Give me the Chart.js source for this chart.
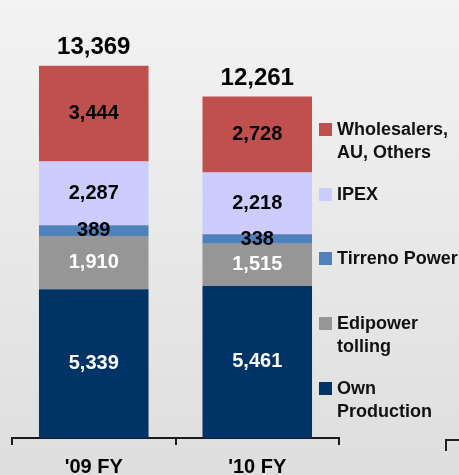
<!DOCTYPE html>
<html>
<head>
<meta charset="utf-8">
<script src="https://cdn.jsdelivr.net/npm/chart.js@4.4.1/dist/chart.umd.min.js"></script>
<style>
  html, body { margin:0; padding:0; width:459px; height:475px; overflow:hidden; }
  body { background: linear-gradient(#f3f3f3, #dedede); position:relative; font-family:"Liberation Sans", Arial, sans-serif; }
  #wrap { position:absolute; left:0; top:0; width:459px; height:500px; }
  #title { position:absolute; left:110px; top:-25px; font-size:30px; font-weight:bold; color:#5a5a5a; line-height:30px; white-space:nowrap; }
  #legend { position:absolute; left:319px; top:118px; }
  .item { height:64.7px; display:flex; align-items:flex-start; }
  .box { width:13px; height:13px; margin-top:5px; margin-right:5px; flex:none; }
  .txt { font-size:18px; font-weight:bold; line-height:23px; color:#111; white-space:nowrap; }
  #frag { position:absolute; left:445px; top:439px; width:20px; height:10px; border-top:2px solid #222; border-left:2px solid #222; }
</style>
</head>
<body>
<div id="title">Sources</div>
<div id="wrap"><canvas id="c" width="459" height="500"></canvas></div>
<div id="legend"></div>
<div id="frag"></div>
<script>
const categories = ["'09 FY", "'10 FY"];
const seriesNames = ["Own Production", "Edipower tolling", "Tirreno Power", "IPEX", "Wholesalers, AU, Others"];
const legendLines = [["Own", "Production"], ["Edipower", "tolling"], ["Tirreno Power"], ["IPEX"], ["Wholesalers,", "AU, Others"]];
const ownProduction = [5339, 5461];
const edipowerTolling = [1910, 1515];
const tirrenoPower = [389, 338];
const ipex = [2287, 2218];
const wholesalers = [3444, 2728];
const totals = [13369, 12261];

const colors = ["#003366", "#969696", "#4f81bd", "#ccccff", "#c0504d"];
const labelColors = ["#ffffff", "#ffffff", "#000000", "#000000", "#000000"];
const seriesValues = [ownProduction, edipowerTolling, tirrenoPower, ipex, wholesalers];

const fmt = v => v.toLocaleString('en-US');

const labelPlugin = {
  id: 'labels',
  afterDatasetsDraw(chart) {
    const ctx = chart.ctx;
    ctx.save();
    ctx.textAlign = 'center';
    chart.data.datasets.forEach((ds, di) => {
      const meta = chart.getDatasetMeta(di);
      meta.data.forEach((el, i) => {
        ctx.font = 'bold 20px "Liberation Sans", Arial, sans-serif';
        ctx.fillStyle = ds.labelColor;
        ctx.textBaseline = 'middle';
        ctx.fillText(fmt(ds.data[i]), el.x, (el.y + el.base) / 2);
      });
    });
    const lastMeta = chart.getDatasetMeta(chart.data.datasets.length - 1);
    lastMeta.data.forEach((el, i) => {
      ctx.font = 'bold 24px "Liberation Sans", Arial, sans-serif';
      ctx.fillStyle = '#000';
      ctx.textBaseline = 'alphabetic';
      ctx.fillText(fmt(totals[i]), el.x, el.y - 12);
    });
    ctx.restore();
  }
};

const chart = new Chart(document.getElementById('c'), {
  type: 'bar',
  data: {
    labels: categories,
    datasets: seriesNames.map((n, i) => ({
      label: n,
      data: seriesValues[i],
      backgroundColor: colors[i],
      labelColor: labelColors[i],
      borderWidth: 0,
      barPercentage: 0.67,
      categoryPercentage: 1.0
    }))
  },
  options: {
    responsive: false,
    animation: false,
    devicePixelRatio: 1,
    layout: { padding: { left: 12, right: 120, top: 30, bottom: 11 } },
    plugins: { legend: { display: false }, tooltip: { enabled: false } },
    scales: {
      x: {
        stacked: true,
        grid: { display: true, drawOnChartArea: false, drawTicks: true, tickLength: 7, color: '#1a1a1a', lineWidth: 2, offset: true },
        border: { display: true, color: '#1a1a1a', width: 2 },
        ticks: { color: '#000', font: { family: '"Liberation Sans", Arial, sans-serif', size: 20, weight: 'bold' }, padding: 10 }
      },
      y: {
        stacked: true,
        display: false,
        min: 0,
        max: 14650
      }
    }
  },
  plugins: [labelPlugin]
});

const legend = document.getElementById('legend');
for (let i = chart.data.datasets.length - 1; i >= 0; i--) {
  const ds = chart.data.datasets[i];
  const item = document.createElement('div');
  item.className = 'item';
  const box = document.createElement('div');
  box.className = 'box';
  box.style.background = ds.backgroundColor;
  const txt = document.createElement('div');
  txt.className = 'txt';
  txt.innerHTML = legendLines[i].join('<br>');
  item.appendChild(box);
  item.appendChild(txt);
  legend.appendChild(item);
}
</script>
</body>
</html>
